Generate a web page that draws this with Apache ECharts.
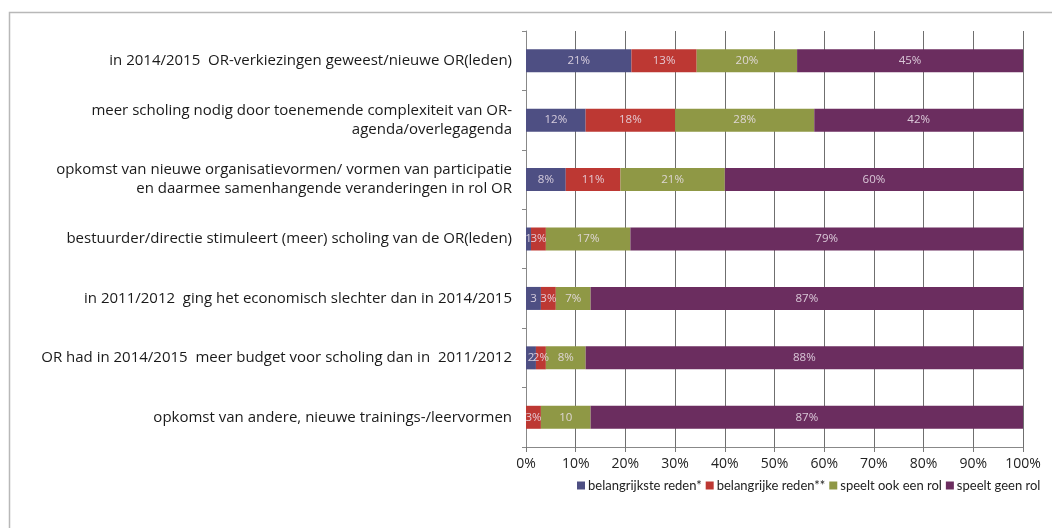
<!DOCTYPE html>
<html>
<head>
<meta charset="utf-8">
<script src="https://cdn.jsdelivr.net/npm/echarts@6/dist/echarts.min.js"></script>
<style>
  html, body { margin: 0; padding: 0; background: #fff; }
  #chart { width: 1052px; height: 528px; }
</style>
</head>
<body>
<div id="chart"></div>
<script>
// categories (top to bottom)
var categories = [
    'in 2014/2015  OR-verkiezingen geweest/nieuwe OR(leden)',
    'meer scholing nodig door toenemende complexiteit van OR-\nagenda/overlegagenda',
    'opkomst van nieuwe organisatievormen/ vormen van participatie\nen daarmee samenhangende veranderingen in rol OR',
    'bestuurder/directie stimuleert (meer) scholing van de OR(leden)',
    'in 2011/2012  ging het economisch slechter dan in 2014/2015',
    'OR had in 2014/2015  meer budget voor scholing dan in  2011/2012',
    'opkomst van andere, nieuwe trainings-/leervormen'
];

var seriesNames = ['belangrijkste reden*', 'belangrijke reden**', 'speelt ook een rol', 'speelt geen rol'];

// percentages
var belangrijkste = [21, 12, 8, 1, 3, 2, 0];
var belangrijke   = [13, 18, 11, 3, 3, 2, 3];
var ookRol        = [20, 28, 21, 17, 7, 8, 10];
var geenRol       = [45, 42, 60, 79, 87, 88, 87];

// label text as it is shown in the bars (small ones are clipped)
var belangrijksteText = ['21%', '12%', '8%', '1', '3', '2', ''];
var belangrijkeText   = ['13%', '18%', '11%', '3%', '3%', '2%', '3%'];
var ookRolText        = ['20%', '28%', '21%', '17%', '7%', '8%', '10'];

var colors = ['#4e4f83', '#bd3833', '#8f9845', '#6b2d5f'];

var xTicks = ['0%', '10%', '20%', '30%', '40%', '50%', '60%', '70%', '80%', '90%', '100%'];

var allSeries = [belangrijkste, belangrijke, ookRol, geenRol];
// 100% stacked: each row is scaled to its own total
var rowTotals = categories.map(function (c, i) {
    return allSeries.reduce(function (s, arr) { return s + arr[i]; }, 0);
});

var myChart = echarts.init(document.getElementById('chart'));

function makeSeries(idx, values, texts) {
    return {
        name: seriesNames[idx],
        type: 'bar',
        stack: 'total',
        barWidth: 23,
        itemStyle: { color: colors[idx] },
        label: {
            show: true,
            color: 'rgba(235,225,235,0.85)',
            fontFamily: 'Open Sans',
            fontSize: 11.5,
            formatter: function (p) {
                if (texts) return texts[p.dataIndex];
                return values[p.dataIndex] + '%';
            }
        },
        data: values.map(function (v, i) { return v / rowTotals[i] * 100; })
    };
}

var option = {
    backgroundColor: '#fff',
    animation: false,
    textStyle: { fontFamily: 'Open Sans' },
    graphic: [{
        type: 'rect',
        shape: { x: 9.5, y: 12.5, width: 1100, height: 600 },
        style: { fill: 'none', stroke: '#b8b8b8', lineWidth: 1.5 },
        silent: true
    }],
    grid: { left: 526, right: 29, top: 31, bottom: 81 },
    legend: {
        data: seriesNames,
        top: 474,
        left: 572,
        width: 560,
        itemWidth: 8,
        itemHeight: 8,
        itemGap: 4,
        icon: 'rect',
        textStyle: { fontFamily: 'Lato', fontSize: 13, color: '#222', padding: [0, 0, 0, -2] }
    },
    xAxis: {
        type: 'value',
        min: 0,
        max: 100,
        interval: 10,
        axisLine: { show: true, lineStyle: { color: '#888' } },
        axisTick: { show: true, length: 5, lineStyle: { color: '#777' } },
        splitLine: { show: true, lineStyle: { color: '#6f6f6f', width: 1 } },
        axisLabel: {
            color: '#222',
            fontSize: 14,
            fontFamily: 'Open Sans',
            margin: 10,
            formatter: function (v) { return xTicks[Math.round(v / 10)]; }
        }
    },
    yAxis: {
        type: 'category',
        inverse: true,
        data: categories,
        axisLine: { show: true, lineStyle: { color: '#888' } },
        axisTick: { show: true, length: 4, lineStyle: { color: '#888' } },
        axisLabel: {
            color: '#1a1a1a',
            fontSize: 15,
            fontFamily: 'Open Sans',
            margin: 14,
            lineHeight: 19,
            align: 'right'
        }
    },
    series: [
        makeSeries(0, belangrijkste, belangrijksteText),
        makeSeries(1, belangrijke, belangrijkeText),
        makeSeries(2, ookRol, ookRolText),
        makeSeries(3, geenRol, null)
    ]
};

myChart.setOption(option);
</script>
</body>
</html>
